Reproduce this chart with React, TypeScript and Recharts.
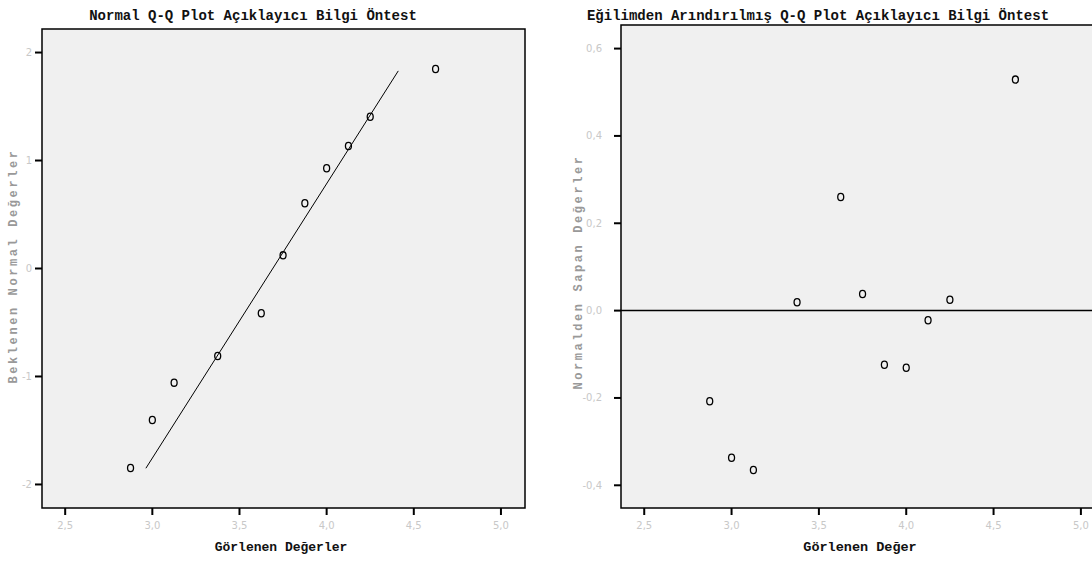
import React from "react";
import { ScatterChart, Scatter, XAxis, YAxis, ReferenceArea, ReferenceLine } from "recharts";

// Observed values (shared by both plots)
const observed = [2.875, 3.0, 3.125, 3.375, 3.625, 3.75, 3.875, 4.0, 4.125, 4.25, 4.625];
// Expected normal values (left plot)
const expectedNormal = [-1.847, -1.403, -1.057, -0.81, -0.415, 0.122, 0.604, 0.928, 1.134, 1.406, 1.847];
// Deviation from normal (right plot)
const deviation = [-0.2075, -0.337, -0.365, 0.019, 0.26, 0.038, -0.124, -0.131, -0.022, 0.025, 0.529];

// Reference line endpoints (left plot)
const fitLineX = [2.963, 4.411];
const fitLineY = [-1.85, 1.83];

const xTicks = [2.5, 3.0, 3.5, 4.0, 4.5, 5.0];
const leftYTicks = [-2, -1, 0, 1, 2];
const rightYTicks = [-0.4, -0.2, 0.0, 0.2, 0.4, 0.6];

const xDomain: [number, number] = [2.367, 5.138];
const leftYDomain: [number, number] = [-2.218, 2.218];
const rightYDomain: [number, number] = [-0.452, 0.654];

const leftTitle = "Normal Q-Q Plot Açıklayıcı Bilgi Öntest";
const rightTitle = "Eğilimden Arındırılmış Q-Q Plot Açıklayıcı Bilgi Öntest";
const leftXLabel = "Görlenen Değerler";
const rightXLabel = "Görlenen Değer";
const leftYLabel = "Beklenen Normal Değerler";
const rightYLabel = "Normalden Sapan Değerler";

const leftData = observed.map((x, i) => ({ x, y: expectedNormal[i] }));
const rightData = observed.map((x, i) => ({ x, y: deviation[i] }));

const comma = (v: number) => v.toFixed(1).replace(".", ",");

const Marker = (props: any) => {
  const { cx, cy } = props;
  if (cx == null || cy == null) return null;
  return <ellipse cx={cx} cy={cy} rx={3} ry={3.6} fill="none" stroke="#000" strokeWidth={1.3} />;
};

const tickStyle = { fill: "#c8c8c8", fontSize: 10, fontFamily: "DejaVu Sans" };
const tickLineStyle = { stroke: "#000", strokeWidth: 2 };
const monoTitle: React.CSSProperties = {
  fontFamily: "Liberation Mono",
  fontWeight: "bold",
};

export default function App() {
  return (
    <div
      style={{
        position: "absolute",
        left: 0,
        top: 0,
        width: 1092,
        height: 563,
        overflow: "hidden",
        background: "#fff",
      }}
    >
      <div style={{ position: "absolute", left: 0, top: 0 }}>
        <ScatterChart width={546} height={563} margin={{ top: 29, left: 0, right: 21, bottom: 0 }}>
          <XAxis
            type="number"
            dataKey="x"
            domain={xDomain}
            ticks={xTicks}
            tickFormatter={comma}
            allowDataOverflow
            height={55}
            stroke="#000"
            tick={tickStyle}
            tickSize={7}
            tickMargin={7}
            axisLine={false}
            tickLine={tickLineStyle}
          />
          <YAxis
            type="number"
            dataKey="y"
            domain={leftYDomain}
            ticks={leftYTicks}
            allowDataOverflow
            width={42}
            stroke="#000"
            tick={tickStyle}
            tickSize={7}
            tickMargin={3}
            axisLine={false}
            tickLine={tickLineStyle}
          />
          <ReferenceArea
            x1={xDomain[0]}
            x2={xDomain[1]}
            y1={leftYDomain[0]}
            y2={leftYDomain[1]}
            fill="#f0f0f0"
            fillOpacity={1}
            stroke="#000"
            strokeWidth={1.5}
          />
          <ReferenceLine
            segment={[
              { x: fitLineX[0], y: fitLineY[0] },
              { x: fitLineX[1], y: fitLineY[1] },
            ]}
            stroke="#000"
            strokeWidth={1}
          />
          <Scatter data={leftData} shape={Marker} isAnimationActive={false} />
        </ScatterChart>
      </div>
      <div style={{ position: "absolute", left: 546, top: 0 }}>
        <ScatterChart width={600} height={563} margin={{ top: 25, left: 0, right: 41, bottom: 0 }}>
          <XAxis
            type="number"
            dataKey="x"
            domain={xDomain}
            ticks={xTicks}
            tickFormatter={comma}
            allowDataOverflow
            height={55}
            stroke="#000"
            tick={tickStyle}
            tickSize={7}
            tickMargin={7}
            axisLine={false}
            tickLine={tickLineStyle}
          />
          <YAxis
            type="number"
            dataKey="y"
            domain={rightYDomain}
            ticks={rightYTicks}
            tickFormatter={comma}
            allowDataOverflow
            width={75}
            stroke="#000"
            tick={tickStyle}
            tickSize={7}
            tickMargin={12}
            axisLine={false}
            tickLine={tickLineStyle}
          />
          <ReferenceArea
            x1={xDomain[0]}
            x2={xDomain[1]}
            y1={rightYDomain[0]}
            y2={rightYDomain[1]}
            fill="#f0f0f0"
            fillOpacity={1}
            stroke="#000"
            strokeWidth={1.5}
          />
          <ReferenceLine y={0} stroke="#000" strokeWidth={1.5} />
          <Scatter data={rightData} shape={Marker} isAnimationActive={false} />
        </ScatterChart>
      </div>
      <svg
        width={1092}
        height={563}
        style={{ position: "absolute", left: 0, top: 0, pointerEvents: "none" }}
      >
        <text x={253} y={20} textAnchor="middle" fontSize={14} fill="#111" style={monoTitle}>
          {leftTitle}
        </text>
        <text x={818} y={20} textAnchor="middle" fontSize={14} fill="#111" style={monoTitle}>
          {rightTitle}
        </text>
        <text x={281} y={551} textAnchor="middle" fontSize={13} fill="#111" style={monoTitle}>
          {leftXLabel}
        </text>
        <text x={860} y={551} textAnchor="middle" fontSize={13.5} fill="#111" style={monoTitle}>
          {rightXLabel}
        </text>
        <text
          x={0}
          y={0}
          transform="translate(17,266) rotate(-90)"
          textAnchor="middle"
          fontSize={12}
          fill="#999"
          letterSpacing={2.6}
          style={monoTitle}
        >
          {leftYLabel}
        </text>
        <text
          x={0}
          y={0}
          transform="translate(582,272) rotate(-90)"
          textAnchor="middle"
          fontSize={12}
          fill="#999"
          letterSpacing={2.6}
          style={monoTitle}
        >
          {rightYLabel}
        </text>
      </svg>
    </div>
  );
}
